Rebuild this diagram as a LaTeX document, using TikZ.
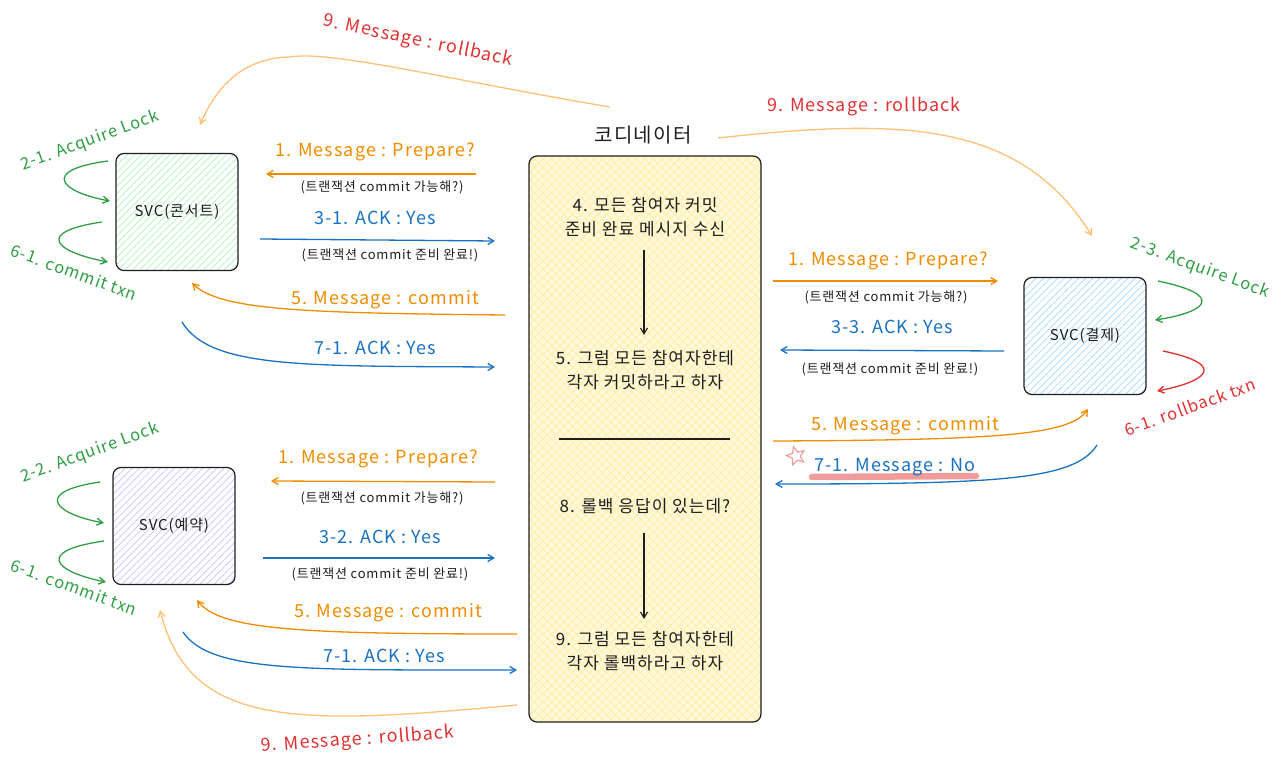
\documentclass[tikz,border=0pt]{standalone}
\usepackage{fontspec}
\setmainfont{Noto Sans CJK KR}
\newfontfamily\sketchfont{Noto Sans CJK KR}[LetterSpace=6]
\usetikzlibrary{arrows.meta,patterns.meta,shapes.geometric}
\definecolor{inkblack}{HTML}{1E1E1E}
\definecolor{msgorange}{HTML}{F08C00}
\definecolor{msgblue}{HTML}{1971C2}
\definecolor{lockgreen}{HTML}{2F9E44}
\definecolor{rbred}{HTML}{E03131}
\definecolor{rbarrow}{HTML}{FFC078}
\definecolor{hatchgreen}{HTML}{B2F2BB}
\definecolor{hatchblue}{HTML}{A5D8FF}
\definecolor{hatchpurple}{HTML}{D0BFFF}
\definecolor{hatchyellow}{HTML}{FFEC99}
\definecolor{markpink}{HTML}{F09C9C}

\tikzset{
  svcbox/.style={draw=inkblack, line width=1.2pt, rounded corners=8pt,
    minimum width=122, minimum height=117},
  svcname/.style={font=\sketchfont\fontsize{15}{17}\selectfont, text=inkblack},
  msg/.style={font=\sketchfont\fontsize{18}{21}\selectfont},
  lock/.style={font=\sketchfont\fontsize{16.5}{20}\selectfont},
  note/.style={font=\sketchfont\fontsize{13}{15}\selectfont, text=inkblack},
  step text/.style={font=\sketchfont\fontsize{17}{24}\selectfont, align=center, text=inkblack},
  arr/.style={line width=1.3pt, -{Straight Barb[length=6pt,width=7pt]}},
}

\begin{document}
\begin{tikzpicture}[x=1pt,y=-1pt]
\useasboundingbox (0,0) rectangle (1283,770);

% coordinator
\node[draw=inkblack, line width=1.2pt, rounded corners=8pt, minimum width=232, minimum height=566,
  preaction={fill=hatchyellow!35},
  pattern={Hatch[angle=45,distance=6pt,line width=0.6pt]}, pattern color=hatchyellow] (coord) at (645,439) {};
\node[font=\sketchfont\fontsize{20}{22}\selectfont, text=inkblack] (coordname) at (643,135) {코디네이터};
\node[step text] (s4) at (645,217) {4. 모든 참여자 커밋\\준비 완료 메시지 수신};
\node[step text] (s5) at (645,370) {5. 그럼 모든 참여자한테\\각자 커밋하라고 하자};
\node[step text] (s8) at (645,506) {8. 롤백 응답이 있는데?};
\node[step text] (s9) at (645,651) {9. 그럼 모든 참여자한테\\각자 롤백하라고 하자};
\coordinate (s4b) at (644,250); \coordinate (s5t) at (644,335);
\coordinate (s8b) at (644,533); \coordinate (s9t) at (644,619);
\draw[arr, line width=1.1pt, inkblack] (s4b) -- (s5t);
\draw[arr, line width=1.1pt, inkblack] (s8b) -- (s9t);
\coordinate (sepl) at (559,439);
\coordinate (sepr) at (730,439);
\draw[line width=1.3pt, inkblack] (sepl) -- (sepr);

% services
\node[svcbox, preaction={fill=white}, pattern={Lines[angle=45,distance=5pt,line width=0.7pt]},
  pattern color=hatchgreen] (concert) at (177,212) {};
\node[svcname] (concertname) at (concert) {SVC(콘서트)};
\node[svcbox, preaction={fill=white}, pattern={Lines[angle=45,distance=5pt,line width=0.7pt]},
  pattern color=hatchblue] (pay) at (1085,336) {};
\node[svcname] (payname) at (pay) {SVC(결제)};
\node[svcbox, preaction={fill=white}, pattern={Lines[angle=45,distance=5pt,line width=0.7pt]},
  pattern color=hatchpurple] (resv) at (174,526) {};
\node[svcname] (resvname) at (resv) {SVC(예약)};

% concert messages
\coordinate (c1a) at (476,174); \coordinate (c1b) at (266,174);
\coordinate (c3a) at (260,239); \coordinate (c3b) at (495,241);
\coordinate (c5a) at (505,315); \coordinate (c5b) at (192,283);
\coordinate (c7a) at (182,322); \coordinate (c7b) at (495,367);
\node[msg, text=msgorange] (c1) at (375,152) {1. Message : Prepare?};
\draw[arr, msgorange] (c1a) -- (c1b);
\node[note] (c1n) at (382,187) {(트랜잭션 commit 가능해?)};
\node[msg, text=msgblue] (c3) at (375,218) {3-1. ACK : Yes};
\draw[arr, msgblue] (c3a) -- (c3b);
\node[note] (c3n) at (390,255) {(트랜잭션 commit 준비 완료!)};
\node[msg, text=msgorange] (c5) at (385,300) {5. Message : commit};
\draw[arr, msgorange] (c5a) .. controls (300,313) and (220,310) .. (c5b);
\node[msg, text=msgblue] (c7) at (375,348) {7-1. ACK : Yes};
\draw[arr, msgblue] (c7a) .. controls (210,368) and (300,366) .. (c7b);

% concert locks
\coordinate (cl1a) at (108,161); \coordinate (cl1b) at (110,201);
\coordinate (cl2a) at (102,222); \coordinate (cl2b) at (108,262);
\draw[arr, lockgreen] (cl1a) .. controls (40,170) and (60,192) .. (cl1b);
\draw[arr, lockgreen] (cl2a) .. controls (34,232) and (55,252) .. (cl2b);
\node[lock, text=lockgreen, rotate=20] (cl1) at (90,141) {2-1. Acquire Lock};
\node[lock, text=lockgreen, rotate=-20] (cl2) at (74,272) {6-1. commit txn};

% reservation messages
\coordinate (r1a) at (495,482); \coordinate (r1b) at (271,481);
\coordinate (r3a) at (263,558); \coordinate (r3b) at (495,558);
\coordinate (r5a) at (517,634); \coordinate (r5b) at (197,600);
\coordinate (r7a) at (183,632); \coordinate (r7b) at (517,670);
\node[msg, text=msgorange] (r1) at (378,459) {1. Message : Prepare?};
\draw[arr, msgorange] (r1a) -- (r1b);
\node[note] (r1n) at (382,498) {(트랜잭션 commit 가능해?)};
\node[msg, text=msgblue] (r3) at (380,537) {3-2. ACK : Yes};
\draw[arr, msgblue] (r3a) -- (r3b);
\node[note] (r3n) at (380,574) {(트랜잭션 commit 준비 완료!)};
\node[msg, text=msgorange] (r5) at (388,613) {5. Message : commit};
\draw[arr, msgorange] (r5a) .. controls (300,634) and (220,630) .. (r5b);
\node[msg, text=msgblue] (r7) at (384,656) {7-1. ACK : Yes};
\draw[arr, msgblue] (r7a) .. controls (210,672) and (300,670) .. (r7b);

% reservation locks
\coordinate (rl1a) at (100,482); \coordinate (rl1b) at (104,523);
\coordinate (rl2a) at (104,541); \coordinate (rl2b) at (106,582);
\draw[arr, lockgreen] (rl1a) .. controls (32,492) and (55,514) .. (rl1b);
\draw[arr, lockgreen] (rl2a) .. controls (34,551) and (55,572) .. (rl2b);
\node[lock, text=lockgreen, rotate=20] (rl1) at (90,453) {2-2. Acquire Lock};
\node[lock, text=lockgreen, rotate=-20] (rl2) at (74,587) {6-1. commit txn};

% payment messages
\coordinate (p1a) at (773,281); \coordinate (p1b) at (998,281);
\coordinate (p3a) at (1004,351); \coordinate (p3b) at (780,350);
\coordinate (p5a) at (773,441); \coordinate (p5b) at (1088,409);
\coordinate (p7a) at (1097,445); \coordinate (p7b) at (775,484);
\node[msg, text=msgorange] (p1) at (888,261) {1. Message : Prepare?};
\draw[arr, msgorange] (p1a) -- (p1b);
\node[note] (p1n) at (886,297) {(트랜잭션 commit 가능해?)};
\node[msg, text=msgblue] (p3) at (892,327) {3-3. ACK : Yes};
\draw[arr, msgblue] (p3a) -- (p3b);
\node[note] (p3n) at (890,369) {(트랜잭션 commit 준비 완료!)};
\node[msg, text=msgorange] (p5) at (905,426) {5. Message : commit};
\draw[arr, msgorange] (p5a) .. controls (1000,440) and (1070,435) .. (p5b);
\coordinate (hla) at (812,477); \coordinate (hlb) at (976,476);
\draw[line width=6.5pt, line cap=round, markpink] (hla) -- (hlb);
\node[msg, text=msgblue] (p7) at (895,467) {7-1. Message : No};
\node[star, star points=5, star point ratio=2.2, draw=markpink, line width=1.2pt,
  minimum size=19, inner sep=0, rotate=15] (star) at (796,456) {};
\draw[arr, msgblue] (p7a) .. controls (1075,480) and (1000,484) .. (p7b);

% payment locks
\coordinate (pl1a) at (1158,281); \coordinate (pl1b) at (1155,320);
\coordinate (pl2a) at (1163,351); \coordinate (pl2b) at (1157,391);
\draw[arr, lockgreen] (pl1a) .. controls (1225,295) and (1208,312) .. (pl1b);
\draw[arr, rbred] (pl2a) .. controls (1230,365) and (1205,382) .. (pl2b);
\node[lock, text=lockgreen, rotate=-20] (pl1) at (1200,268) {2-3. Acquire Lock};
\node[lock, text=rbred, rotate=20] (pl2) at (1190,407) {6-1. rollback txn};

% rollback
\coordinate (rb1a) at (610,107); \coordinate (rb1m) at (290,57); \coordinate (rb1b) at (200,125);
\coordinate (rb2a) at (718,138); \coordinate (rb2b) at (1092,236);
\coordinate (rb3a) at (517,705); \coordinate (rb3b) at (160,610);
\draw[arr, rbarrow] (rb1a) .. controls (450,80) and (330,50) .. (rb1m) .. controls (240,58) and (215,90) .. (rb1b);
\draw[arr, rbarrow] (rb2a) .. controls (900,118) and (1020,120) .. (rb2b);
\draw[arr, rbarrow] (rb3a) .. controls (300,725) and (190,730) .. (rb3b);
\node[msg, text=rbred, rotate=-12] (rb1) at (418,41) {9. Message : rollback};
\node[msg, text=rbred] (rb2) at (864,107) {9. Message : rollback};
\node[msg, text=rbred, rotate=4] (rb3) at (358,740) {9. Message : rollback};
\end{tikzpicture}
\end{document}
